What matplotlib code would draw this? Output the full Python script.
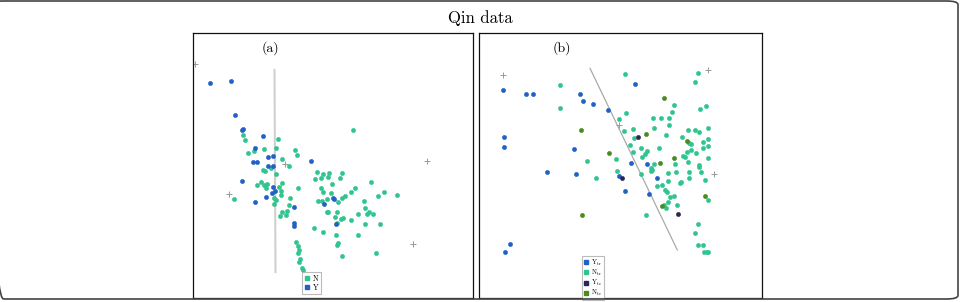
import matplotlib.pyplot as plt
from matplotlib.patches import FancyBboxPatch
from matplotlib.lines import Line2D

plt.rcParams['font.family'] = ['cmr10', 'DejaVu Serif']
plt.rcParams['mathtext.fontset'] = 'cm'
plt.rcParams['axes.unicode_minus'] = False

# coordinates (arbitrary projection units, y grows downward)
# ---- panel (a)
a_N = [(243.3, 135.3), (244.7, 140), (277.7, 138.7), (263.7, 148.7), (276.3, 148), (295, 149.7),
       (297.3, 155.3), (248, 153), (254.3, 151.3), (282.3, 158.7), (289, 165.7), (270.7, 168),
       (263.3, 170), (265, 171), (276, 174), (317, 172.3), (323, 174), (328.5, 173), (315, 178.7),
       (321, 178), (328, 177.3), (342.3, 173), (340, 177.7),
       (257.3, 185), (261.3, 182), (263.7, 185), (267.3, 184), (266, 188.3), (279.3, 187.3),
       (282.3, 183.3), (281, 190.7), (298, 187.7), (234.3, 199.3), (274, 198.3), (276.3, 200.3),
       (281, 195.3), (274, 204.3), (290, 198.3), (289, 205.3), (287.3, 211.3), (282, 212.3),
       (285.7, 214.7), (280.3, 216.3), (296, 241.7), (298, 246), (299, 250), (298, 253),
       (300.3, 259), (299, 261.7), (301.7, 267.7), (303, 270), (314, 228.3),
       (332.3, 184.3), (321, 188.3), (322.7, 191.7), (331, 192.7), (327.3, 199), (321.7, 201),
       (318.3, 201), (338.3, 201.7), (342.3, 198.3), (345.3, 196.3), (351, 192.3), (355, 188),
       (371, 182.3), (384, 191.7), (378.3, 196), (396.7, 194.7), (364, 201.3), (365, 208),
       (368.7, 211.7), (366.7, 214.3), (373, 213.7), (358.3, 213.7), (351, 219.7), (326.7, 212.3),
       (328, 212.3), (337, 211.7), (334.7, 216.7), (340.7, 219), (343.3, 217.7), (337, 222.7),
       (365, 224), (380.3, 223.7), (322.7, 232), (336.3, 235.3), (357.7, 235), (337, 244.7),
       (338, 243), (376.3, 252.7), (342.3, 255.7), (353, 129.7)]
a_Y = [(209.7, 82.7), (231, 80.7), (235.3, 115), (241.7, 130), (243.3, 128.7), (263, 136),
       (255, 147.7), (272.7, 156), (268.3, 157.3), (252.7, 161.7), (256.7, 161.7), (310.7, 161.3),
       (267.7, 166), (273.3, 166.3), (242, 181.3), (273.3, 187), (274.7, 191.3), (271.7, 192.7),
       (266, 196.7), (254.7, 202), (293.7, 206.7), (293.7, 223.3), (294.3, 226), (333.3, 197.7),
       (334.3, 198.7), (323.7, 204), (335.7, 224.3)]
a_cross = [(195, 64.3), (284.5, 164.3), (229, 193.7), (427.3, 160.5), (413.3, 244.3)]
a_line = [(274.5, 70), (275.5, 272)]

# ---- panel (b)
b_Ytr = [(503, 90.3), (526, 94), (532.7, 94), (579.7, 94.3), (582.7, 100.7), (593.3, 103.7),
         (608.3, 110), (503.7, 137), (504.3, 146.7), (574, 149.3), (547.3, 171.7), (575.7, 174),
         (618.6, 176), (509.7, 244.3), (505.3, 252.3), (634.7, 83.7), (631, 163.3), (647, 164.3),
         (657, 178.3), (625.3, 191.3), (649, 193.7)]
b_Ntr = [(560.3, 84.7), (559.7, 107.7), (587, 161), (616, 159), (596, 178), (617, 171.3),
         (624.7, 73.7), (698, 73.3), (695, 82.3), (674.3, 104.7), (671.7, 111.7), (705.7, 105.7),
         (699.7, 109.3), (626.3, 113.3), (619.3, 119.3), (652.7, 117.7), (661, 117.7), (669.3, 118.3),
         (654, 127.7), (669.3, 125.3), (624, 130.7), (633, 128.7), (688, 129.7), (694.7, 130.3),
         (699, 132), (708, 128), (634, 138), (666, 134.7), (681.7, 136.7), (708, 138.7),
         (689.3, 142.7), (690.7, 144), (702.7, 142), (630, 145.3), (640.7, 147.7), (646.7, 150.7),
         (658.7, 148.3), (686.7, 152), (690.7, 150), (702.7, 148), (707.7, 146.3), (633, 151.7),
         (644.7, 154.3), (641.7, 156.7), (682.7, 156.3), (684.7, 157.3), (695.7, 153), (708, 157.7),
         (654, 164), (675.3, 163.7), (651, 167.7), (652.3, 169.7), (650.7, 171), (688, 161.7),
         (699, 165.3), (699.3, 167), (641.3, 173.7), (667.7, 172.7), (675.7, 172), (689, 171.7),
         (701, 172.3), (689, 178), (705.3, 180), (667.7, 180.7), (680.7, 181.7), (679.7, 183.3),
         (657, 185.7), (661.7, 185.3), (665, 190), (667, 191.7), (670.3, 197), (674.3, 196.3),
         (707.7, 200.3), (667.7, 201.7), (676.7, 205.3), (663.7, 205), (665.7, 207.7), (646, 214.7),
         (697.7, 223.7), (695, 233.3), (697.7, 244.7), (702.7, 245), (704.3, 251.7), (706.7, 252),
         (708, 251.7)]
b_Yte = [(637.7, 137), (621.7, 177.7), (677.7, 214.3)]
b_Nte = [(581.3, 130), (609.3, 152.7), (582, 215), (664, 98), (646, 134), (686.7, 141.3),
         (674, 157.7), (659.7, 163), (705.3, 195.7), (662, 206)]
b_cross = [(503.5, 75.2), (708.3, 70), (619.3, 124.5), (714, 173.5)]
b_line = [(590, 68.3), (677.3, 250)]

c_Y = '#2161c6'
c_N = '#30c58f'
c_Yte = '#2a2757'
c_Nte = '#4a8a1e'

fig = plt.figure(figsize=(9.62, 3.02), dpi=100)

# outer rounded frame of the figure
W, H = 962, 302
frame = FancyBboxPatch((-8 / W, 3 / H), 966 / W, 298 / H,
                       boxstyle='round,pad=0,rounding_size=0.012',
                       transform=fig.transFigure, fill=False,
                       edgecolor='#444444', linewidth=1.2)
fig.patches.append(frame)
fig.text(480 / W, 1 - 18 / H, 'Qin data', ha='center', va='center', fontsize=12)

ax_a = fig.add_axes([193 / W, 1 - 298 / H, 280 / W, 265 / H])
ax_b = fig.add_axes([479 / W, 1 - 298 / H, 283 / W, 265 / H])
ax_a.set_xlim(193, 473)
ax_b.set_xlim(479, 762)


def scatter(ax, pts, color, **kw):
    xs = [p[0] for p in pts]
    ys = [p[1] for p in pts]
    ax.scatter(xs, ys, s=9, color=color, edgecolors=color, linewidths=0.4, zorder=3, **kw)


def crosses(ax, pts):
    ax.scatter([p[0] for p in pts], [p[1] for p in pts], marker='+', s=22,
               color='#999999', linewidths=0.7, zorder=2)


# panel (a)
ax_a.plot([p[0] for p in a_line], [p[1] for p in a_line], color='#d0d0d0', lw=1.5, zorder=1)
scatter(ax_a, a_N, c_N)
scatter(ax_a, a_Y, c_Y)
crosses(ax_a, a_cross)

# panel (b)
ax_b.plot([p[0] for p in b_line], [p[1] for p in b_line], color='#aaaaaa', lw=0.9, zorder=1)
scatter(ax_b, b_Ntr, c_N)
scatter(ax_b, b_Ytr, c_Y)
scatter(ax_b, b_Nte, c_Nte)
scatter(ax_b, b_Yte, c_Yte)
crosses(ax_b, b_cross)

for ax, lab, lx in [(ax_a, '(a)', 270), (ax_b, '(b)', 562)]:
    ax.set_ylim(298, 33)
    ax.set_xticks([])
    ax.set_yticks([])
    for sp in ax.spines.values():
        sp.set_linewidth(0.9)
        sp.set_color('#111111')
    ax.text(lx, 48, lab, ha='center', va='center', fontsize=10)


def sq(c):
    return Line2D([], [], marker='s', linestyle='', color=c, markersize=3.4)


leg_kw = dict(fontsize=5.5, frameon=True, fancybox=False, edgecolor='#aaaaaa',
              handlelength=0.8, handletextpad=0.3, borderpad=0.3, labelspacing=0.05,
              borderaxespad=0)
la = ax_a.legend([sq(c_N), sq(c_Y)], ['N', 'Y'], loc='upper left',
                 bbox_to_anchor=((302 - 193) / 280, 1 - (272 - 33) / 265), **leg_kw)
la.get_frame().set_linewidth(0.8)
leg_kw['labelspacing'] = 0.0
leg_kw['borderpad'] = 0.25
leg_kw['fontsize'] = 4.8
lb = ax_b.legend([sq(c_Y), sq(c_N), sq(c_Yte), sq(c_Nte)],
                 [r'Y$_{\rm tr}$', r'N$_{\rm tr}$', r'Y$_{\rm te}$', r'N$_{\rm te}$'],
                 loc='upper left', bbox_to_anchor=((582 - 479) / 283, 1 - (256 - 33) / 265),
                 **leg_kw)
lb.get_frame().set_linewidth(0.8)

fig.savefig('out.png', dpi=100)
